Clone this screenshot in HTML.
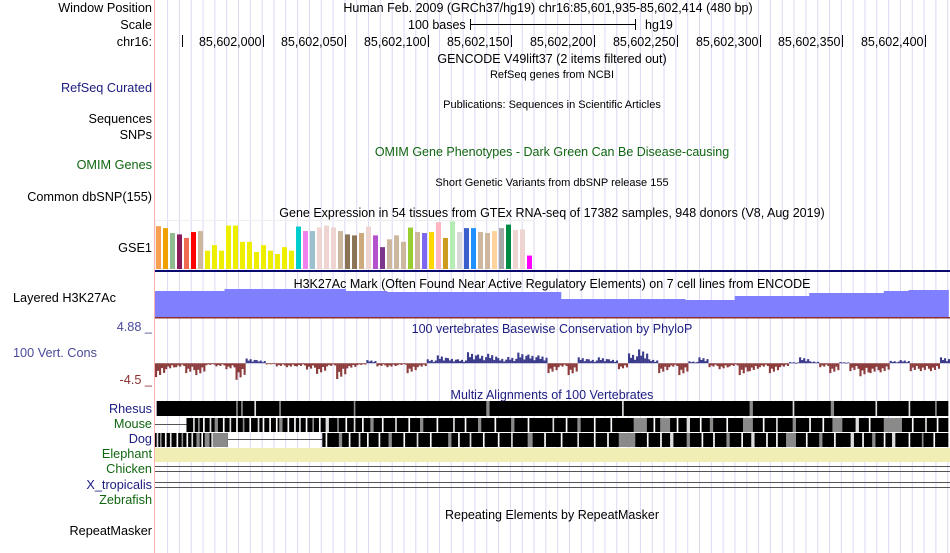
<!DOCTYPE html>
<html><head><meta charset="utf-8"><style>
html,body{margin:0;padding:0;background:#fff;}
svg{display:block;font-family:"Liberation Sans",sans-serif;}
</style></head><body>
<svg id="c" width="950" height="553" viewBox="0 0 950 553">
<g id="grid"></g>
<line x1="154.5" y1="0" x2="154.5" y2="553" stroke="#ffb0b0" stroke-width="1"/>
<g font-size="12.7" fill="#000" text-anchor="end">
<text x="152" y="12">Window Position</text>
<text x="152" y="29">Scale</text>
<text x="152" y="46">chr16:</text>
<text x="152" y="92" fill="#1c1c80">RefSeq Curated</text>
<text x="152" y="123">Sequences</text>
<text x="152" y="139">SNPs</text>
<text x="152" y="169" fill="#116611">OMIM Genes</text>
<text x="152" y="201">Common dbSNP(155)</text>
<text x="152" y="252">GSE1</text>
<text x="13" y="302" text-anchor="start">Layered H3K27Ac</text>
<text x="152" y="331" fill="#4a4a9a">4.88 _</text>
<text x="13" y="357" text-anchor="start" fill="#4a4a9a">100 Vert. Cons</text>
<text x="152" y="384" fill="#8a3030">-4.5 _</text>
<text x="152" y="413" fill="#1c1c80">Rhesus</text>
<text x="152" y="428" fill="#116611">Mouse</text>
<text x="152" y="443" fill="#1c1c80">Dog</text>
<text x="152" y="458" fill="#116611">Elephant</text>
<text x="152" y="473" fill="#116611">Chicken</text>
<text x="152" y="489" fill="#1c1c80">X_tropicalis</text>
<text x="152" y="504" fill="#116611">Zebrafish</text>
<text x="152" y="535">RepeatMasker</text>
</g>
<g font-size="12.5" text-anchor="middle">
<text x="548" y="12">Human Feb. 2009 (GRCh37/hg19)   chr16:85,601,935-85,602,414 (480 bp)</text>
<text x="408" y="29" text-anchor="start">100 bases</text>
<text x="645" y="29" text-anchor="start">hg19</text>
<text x="552" y="63">GENCODE V49lift37 (2 items filtered out)</text>
<text x="552" y="78" font-size="11">RefSeq genes from NCBI</text>
<text x="552" y="108" font-size="11">Publications: Sequences in Scientific Articles</text>
<text x="552" y="156" fill="#116611">OMIM Gene Phenotypes - Dark Green Can Be Disease-causing</text>
<text x="552" y="186" font-size="11">Short Genetic Variants from dbSNP release 155</text>
<text x="552" y="217">Gene Expression in 54 tissues from GTEx RNA-seq of 17382 samples, 948 donors (V8, Aug 2019)</text>
<text x="552" y="288">H3K27Ac Mark (Often Found Near Active Regulatory Elements) on 7 cell lines from ENCODE</text>
<text x="552" y="333" fill="#1c1c80">100 vertebrates Basewise Conservation by PhyloP</text>
<text x="552" y="399" fill="#1c1c80">Multiz Alignments of 100 Vertebrates</text>
<text x="552" y="519">Repeating Elements by RepeatMasker</text>
</g>
<g stroke="#000">
<line x1="470" y1="24.5" x2="636" y2="24.5"/><line x1="470.5" y1="19" x2="470.5" y2="30"/><line x1="635.5" y1="19" x2="635.5" y2="30"/>
</g>
<g id="ruler"></g>
<g id="gtex"></g>
<rect x="155" y="270" width="795" height="2" fill="#0a0a6e"/>
<g id="h3"></g>
<g id="cons"></g>
<g id="multiz"></g>
</svg>
<script>
const NS="http://www.w3.org/2000/svg";
function mk(parent,tag,attrs){const e=document.createElementNS(NS,tag);for(const k in attrs)e.setAttribute(k,attrs[k]);parent.appendChild(e);return e;}
const startBp=85601935, endBp=85602414;
const x0=155, x1=950;
function X(bp){return x0+(bp-startBp)/(endBp-startBp+1)*(x1-x0);}
const grid=document.getElementById('grid');
for(let gx=167.6;gx<950;gx+=11.82){const l=mk(grid,'line',{x1:gx,y1:0,x2:gx,y2:553,stroke:'#dcd8f4','stroke-width':1});

}
const rulerTicks=[85602000,85602050,85602100,85602150,85602200,85602250,85602300,85602350,85602400];
const ruler=document.getElementById('ruler');
const t0=mk(ruler,'line',{x1:182.5,y1:35,x2:182.5,y2:47,stroke:'#000'});


rulerTicks.forEach(bp=>{const tx=Math.round(X(bp))+0.5;
const l=mk(ruler,'line',{x1:tx,y1:35,x2:tx,y2:47,stroke:'#000'});


const t=mk(ruler,'text',{x:tx-2,y:46,'font-size':12.5,'text-anchor':'end'});t.textContent=bp.toLocaleString('en-US');

});
const gtexValues=[43.7,41.7,36.7,35.3,31.7,37.7,38.7,18.7,24.3,18.7,44.3,44.3,27.7,27.7,17.3,24.3,18.7,15.3,22.3,18.7,43.3,38.7,38.7,42.3,44.3,42.3,38.7,35.3,34.3,36.7,43.3,34.3,22.3,30.3,34.3,27.7,42.3,37.7,36.7,37.7,47.7,31.7,48.7,37.7,41.7,41.7,37.7,36.7,38.7,41.7,45.3,39.7,40.3,13.7];
const gtexColors=['#f9a050','#f0a000','#8fbc8f','#8b1a5a','#ee6a50','#ff0000','#cdb79e','#eeee00','#eeee00','#eeee00','#eeee00','#eeee00','#eeee00','#eeee00','#eeee00','#eeee00','#eeee00','#eeee00','#eeee00','#eeee00','#00cdcd','#ee82ee','#9ac0cd','#eed5d2','#eed5d2','#eed5d2','#cdb79e','#8b7355','#8b7355','#cdaa7d','#eed5d2','#b452cd','#7a378b','#cdb79e','#cdb79e','#cdb79e','#9acd32','#cdb79e','#7b68ee','#ffd700','#ffb6c1','#cd9b1d','#b4eeb4','#d9d9d9','#3a5fcd','#1e90ff','#cdb79e','#cdb79e','#ffd39b','#a6a6a6','#008b45','#eed5d2','#eed5d2','#ff00ff'];
const gtexBase=269, gtexMax=50, gtexH=49;
function GY(v){return gtexBase-v/gtexMax*gtexH;}
const gtex=document.getElementById('gtex');
mk(gtex,'rect',{x:155.5,y:220.5,width:378,height:48,fill:'none',stroke:'#eee'});
gtexValues.forEach((v,i)=>{const r=mk(gtex,'rect',{x:156+i*7,y:GY(v),width:5,height:gtexBase-GY(v),fill:gtexColors[i]});

});
const h3Pos=[85601935,85601977,85602050,85602075,85602180,85602255,85602285,85602330,85602375,85602390,85602414];
const h3Vals=[27,29,27,26,19,18,22,25,27,28];
const h3=document.getElementById('h3');
const h3Base=318, h3Scale=1;
h3Vals.forEach((v,i)=>{const a=X(h3Pos[i]),b=X(h3Pos[i+1]);
const r=mk(h3,'rect',{x:a,y:h3Base-v*h3Scale,width:b-a+0.5,height:v*h3Scale,fill:'#8080ff'});

});
mk(h3,'rect',{x:155,y:317,width:795,height:1.5,fill:'#8a3030'});
const consVals=[-3.5,-1.5,-1,-2.5,-3,-0.5,-0.8,-1.5,-4.2,1.2,0.8,-0.3,-0.8,-1,-0.8,-1.6,-2.7,-0.8,-4,-1.3,-0.5,0.8,-0.8,-1,-0.5,-2.5,-1,1,2,1.3,1,2.8,2.2,2.4,1.3,1.6,2.7,2.2,2,-2.5,-1,-3,1.5,1,1.5,1,-1.5,2.5,3.5,1,-2.5,-1,-3,0.5,1.5,-1,-1.5,-0.8,-3,-2,-1,-2.5,-1,0.3,1.5,0.5,-1,-2.5,0.3,-2,-3.3,-2.5,-2.3,0.6,0.8,-2,-2,-2,1.5];
const consMax=4.88, consMin=-4.5, consTop=344, consBot=381;
function CY(v){return consTop+(consMax-v)/(consMax-consMin)*(consBot-consTop);}
const cons=document.getElementById('cons');
const stepBp=(endBp-startBp+1)/consVals.length;
const zero=CY(0);
consVals.forEach((v,i)=>{const a=X(startBp+i*stepBp),b=X(startBp+(i+1)*stepBp);
const y=CY(v);
const n=5;const w=(b-a)/n;
for(let k=0;k<n;k++){const f=[1,0.55,0.85,0.35,0.7][k];const yy=zero+(y-zero)*f;
const r=mk(cons,'rect',{x:a+k*w,y:Math.min(yy,zero),width:w+0.1,height:Math.max(Math.abs(yy-zero),0.8),fill:v>=0?'#3c3c8c':'#8c3c3c'});

}});
const mz=document.getElementById('multiz');
function row(y,h,segs,gaps,name){
segs.forEach(s=>{const r=mk(mz,'rect',{x:X(s[0]),y:y,width:X(s[1])-X(s[0]),height:h,fill:'#000'});

});
gaps.forEach(g=>{const r=mk(mz,'rect',{x:X(g[0]),y:y,width:Math.max(X(g[1])-X(g[0]),1),height:h,fill:g[2]});

});}
const G='#8a8a8a',W='#dddddd',WW='#ffffff';
const rhesusGaps=[[85601935,85601936,WW],[85601984,85601985,G],[85601987,85601988,G],[85601995,85601996,W],[85602010,85602011,G],[85602055,85602056,G],[85602135,85602137,G],[85602217,85602218,W],[85602294,85602296,G],[85602320,85602321,W],[85602343,85602345,G],[85602370,85602371,W],[85602390,85602391,W],[85602406,85602407,G]];
row(401,15,[[85601935,85602414]],rhesusGaps,'rhesus');
mk(mz,'line',{x1:155,y1:424.5,x2:X(85601954),y2:424.5,stroke:'#555'});
const mouseGaps=[[85601958,85601959,W],[85601961,85601962,G],[85601964,85601965,WW],[85601968,85601969,W],[85601971,85601973,G],[85601976,85601977,WW],[85601980,85601981,W],[85601984,85601985,WW],[85601988,85601989,G],[85601992,85601993,WW],[85601997,85601998,W],[85602000,85602001,WW],[85602004,85602005,WW],[85602008,85602009,WW],[85602010,85602012,G],[85602015,85602016,WW],[85602019,85602020,WW],[85602022,85602023,W],[85602026,85602027,WW],[85602030,85602031,G],[85602034,85602035,WW],[85602038,85602040,W],[85602045,85602046,G],[85602050,85602051,WW],[85602055,85602056,W],[85602060,85602061,WW],[85602065,85602067,G],[85602072,85602073,WW],[85602080,85602081,W],[85602088,85602089,WW],[85602095,85602097,G],[85602105,85602106,WW],[85602115,85602116,W],[85602122,85602123,WW],[85602130,85602132,G],[85602140,85602141,WW],[85602150,85602152,G],[85602160,85602161,WW],[85602175,85602176,W],[85602183,85602184,WW],[85602190,85602192,G],[85602200,85602201,WW],[85602210,85602211,WW],[85602224,85602232,G],[85602236,85602237,WW],[85602240,85602246,G],[85602250,85602251,WW],[85602256,85602258,W],[85602264,85602265,WW],[85602270,85602272,G],[85602280,85602281,WW],[85602290,85602296,G],[85602302,85602303,WW],[85602310,85602311,W],[85602320,85602322,G],[85602330,85602331,WW],[85602338,85602339,WW],[85602344,85602350,G],[85602358,85602360,W],[85602366,85602367,WW],[85602375,85602386,G],[85602392,85602393,WW],[85602400,85602401,W],[85602407,85602408,WW]];
row(418,14,[[85601954,85602414]],mouseGaps,'mouse');
mk(mz,'line',{x1:X(85601979),y1:439.5,x2:X(85602036),y2:439.5,stroke:'#555'});
const dogGaps=[[85601936,85601937,W],[85601938,85601939,G],[85601941,85601942,WW],[85601944,85601945,W],[85601948,85601949,WW],[85601951,85601952,G],[85601954,85601955,WW],[85601957,85601958,W],[85601960,85601962,G],[85601963,85601964,WW],[85601965,85601968,G],[85601969,85601970,W],[85601970,85601979,G],[85602038,85602039,WW],[85602046,85602048,G],[85602052,85602053,WW],[85602058,85602059,W],[85602063,85602064,WW],[85602070,85602071,WW],[85602076,85602078,G],[85602085,85602086,WW],[85602093,85602094,W],[85602101,85602102,WW],[85602112,85602114,G],[85602118,85602119,WW],[85602125,85602126,W],[85602133,85602134,WW],[85602142,85602143,WW],[85602150,85602151,W],[85602160,85602163,G],[85602170,85602171,WW],[85602180,85602181,WW],[85602190,85602191,W],[85602200,85602201,WW],[85602208,85602209,WW],[85602215,85602225,G],[85602232,85602233,WW],[85602240,85602241,WW],[85602246,85602248,W],[85602256,85602258,G],[85602265,85602266,WW],[85602272,85602273,WW],[85602280,85602282,G],[85602289,85602290,WW],[85602295,85602297,W],[85602304,85602305,WW],[85602310,85602311,WW],[85602316,85602322,G],[85602328,85602329,WW],[85602336,85602338,G],[85602345,85602346,WW],[85602355,85602357,W],[85602362,85602363,WW],[85602368,85602370,G],[85602375,85602376,WW],[85602380,85602382,W],[85602390,85602391,WW],[85602398,85602399,G],[85602405,85602406,WW]];
row(433,14,[[85601935,85601979],[85602036,85602414]],dogGaps,'dog');
const el=mk(mz,'rect',{x:155,y:448,width:795,height:14,fill:'#f0eeb4'});


[466.5,471.5,482.5,487.5].forEach(y=>{const l=mk(mz,'line',{x1:155,y1:y,x2:950,y2:y,stroke:'#555'});

});
</script>
</body></html>
